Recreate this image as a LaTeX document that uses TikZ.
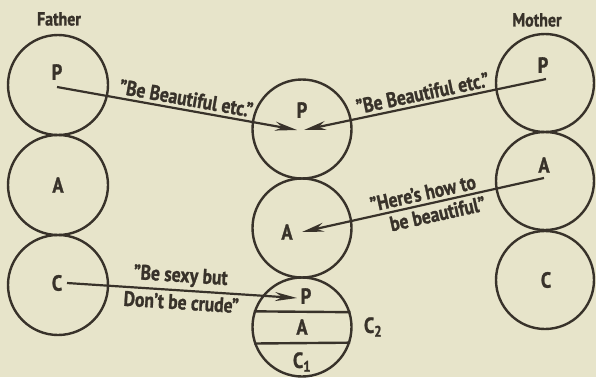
\documentclass[tikz,border=0pt]{standalone}
\usepackage{fontspec}
\setmainfont{PT Sans}[FakeStretch=0.84, BoldFont={PT Sans Bold}, BoldFeatures={FakeBold=1.2}]
\usetikzlibrary{arrows.meta}
\definecolor{paper}{RGB}{231,228,202}
\definecolor{ink}{RGB}{56,50,42}

\begin{document}
\begin{tikzpicture}[x=1bp, y=1bp,
  ring/.style={circle, draw=ink, line width=2.4bp, minimum size=99bp, inner sep=0pt},
  head/.style={font=\fontsize{19}{19}\selectfont\bfseries, text=ink, inner sep=0pt},
  lbl/.style={font=\fontsize{22}{22}\selectfont\bfseries, text=ink, inner sep=0pt},
  quote/.style={font=\fontsize{21}{21}\selectfont\bfseries, text=ink, sloped, inner sep=3bp},
  arr/.style={draw=ink, line width=2.2bp, -{Stealth[length=22bp, width=9bp]}}
]
  \fill[paper] (0,0) rectangle (596,377);

  % Father
  \node[head] (father) at (59,358) {Father};
  \node[ring, minimum size=100bp] (fp) at (58,292) {};
  \node[ring, minimum size=100bp] (fa) at (58,192) {};
  \node[ring, minimum size=100bp] (fc) at (58,92) {};
  \node[lbl] (fpl) at (57,305) {P};
  \node[lbl] (fal) at (58,192) {A};
  \node[lbl] (fcl) at (57,94) {C};
  \coordinate (fps) at (57,290);
  \coordinate (fcs) at (67,94);

  % Mother
  \node[head] (mother) at (537,357) {Mother};
  \node[ring, minimum size=98bp] (mp) at (545,294) {};
  \node[ring, minimum size=98bp] (ma) at (545,196) {};
  \node[ring, minimum size=98bp] (mc) at (545,97) {};
  \node[lbl] (mpl) at (543,312) {P};
  \node[lbl] (mal) at (544,212) {A};
  \node[lbl] (mcl) at (546,97) {C};
  \coordinate (mps) at (546,298);
  \coordinate (mas) at (544,199);

  % child
  \node[ring] (cp) at (302,248) {};
  \node[ring] (ca) at (302,149) {};
  \node[ring] (cc) at (302,50) {};
  \draw[ink, line width=2.4bp] (cc.17.6) -- (cc.162.4);
  \draw[ink, line width=2.4bp] (cc.-18.9) -- (cc.-161.1);
  \node[lbl] (cpl) at (302,267) {P};
  \node[lbl] (cal) at (287,145) {A};
  \node[lbl] (ccp) at (306,81) {P};
  \node[lbl] (cca) at (302,50) {A};
  \node[lbl] (ccc) at (302,15) {C\textsubscript{1}};
  \node[lbl] (ccl) at (373,50) {C\textsubscript{2}};
  \coordinate (cpt1) at (297,247);
  \coordinate (cpt2) at (304,247);
  \coordinate (cat) at (302,145);
  \coordinate (cct) at (297,79);

  % messages
  \draw[arr] (fps) -- node[quote, above, pos=0.53] {"Be Beautiful etc."} (cpt1);
  \draw[arr] (mps) -- node[quote, above, pos=0.5] {"Be Beautiful etc."} (cpt2);
  \draw[arr] (mas) -- node[quote, above, pos=0.49] {"Here's how to}
                      node[quote, below, pos=0.45] {be beautiful"} (cat);
  \draw[arr] (fcs) -- node[quote, above, pos=0.49] {"Be sexy but}
                      node[quote, below, pos=0.5] {Don't be crude"} (cct);
\end{tikzpicture}
\end{document}
